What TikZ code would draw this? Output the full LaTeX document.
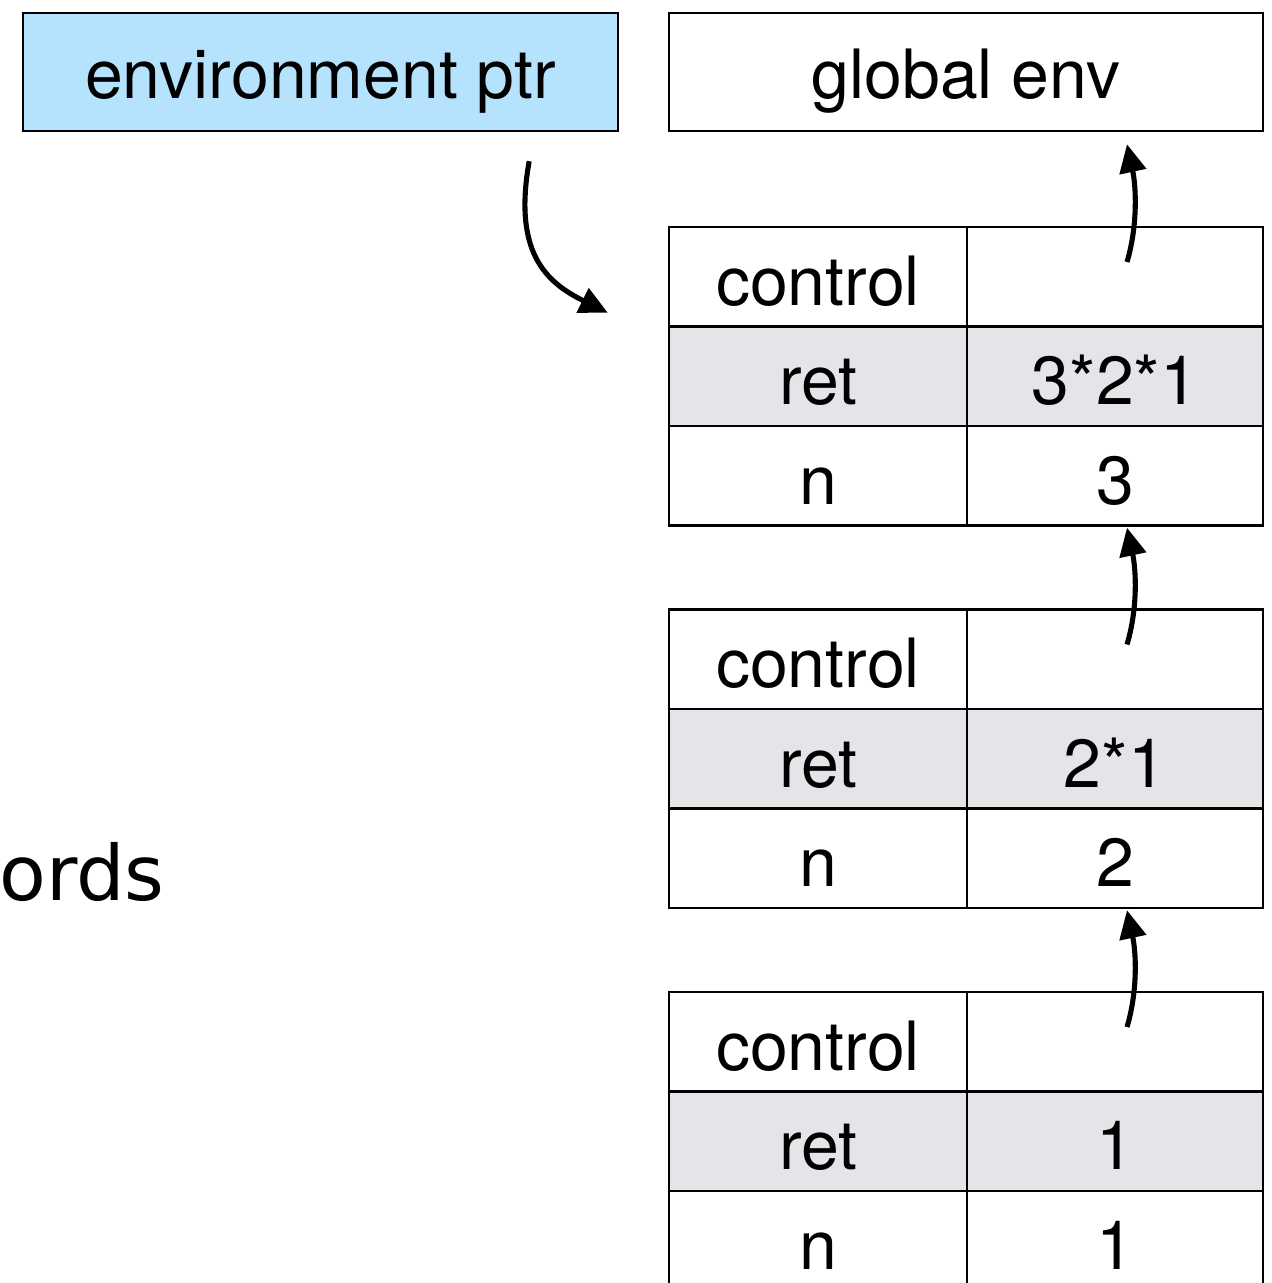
\documentclass[tikz,border=0pt]{standalone}
\usepackage{fontspec}
\setmainfont{TeX Gyre Heros}
\newfontfamily\labelfont{DejaVu Sans}
\usetikzlibrary{arrows.meta,calc}
\definecolor{ptrblue}{HTML}{B5E2FD}
\definecolor{retgray}{HTML}{E4E5E9}
\begin{document}
\begin{tikzpicture}[x=0.02cm,y=-0.02cm,
  box/.style={draw, line width=1.4pt, inner sep=0pt,
    font=\fontsize{38.7}{46}\selectfont, text depth=0pt},
  cellL/.style={box, minimum width=5.96cm, minimum height=1.99cm, text height=1.14cm},
  cellR/.style={box, minimum width=5.92cm, minimum height=1.99cm, text height=1.14cm},
  headbox/.style={box, minimum height=2.36cm, text height=1.08cm},
  link/.style={line width=2.9pt, -{Triangle[length=16pt,width=15pt]}}]
\clip (0,0) rectangle (1271,1283);

% pointer and global environment
\node[headbox, fill=ptrblue, minimum width=11.9cm] (envptr) at (320.5,72) {environment ptr};
\node[headbox, minimum width=11.88cm] (genv) at (966,72) {global env};

% activation records
\foreach \k/\top/\ret/\n in {1/227/3*2*1/3, 2/609.5/2*1/2, 3/992/1/1} {
  \node[cellL] (c\k-ctl)  at (818,\top+49.75)  {control};
  \node[cellR] (c\k-ctlv) at (1115,\top+49.75) {};
  \node[cellL, fill=retgray] (c\k-ret)  at (818,\top+149.25)  {ret};
  \node[cellR, fill=retgray] (c\k-retv) at (1115,\top+149.25) {\ret};
  \node[cellL] (c\k-n)  at (818,\top+248.75)  {n};
  \node[cellR] (c\k-nv) at (1115,\top+248.75) {\n};
}

\node[font=\labelfont\fontsize{43.5}{52}\selectfont, anchor=base west, inner sep=0pt]
  (records) at (-1,900) {ords};

% environment pointer into the newest record
\coordinate (envtail) at ($(envptr.south east)+(-90,29)$);
\coordinate (envhead) at ($(c1-ctl.west)+(-60,36)$);
\draw[link] (envtail) .. controls +(-16,90) and +(-63,-31) .. (envhead);

% static links up the chain
\coordinate (up1-head) at ($(genv.south)+(161,12)$);
\coordinate (up2-head) at ($(c1-nv.south)+(12,1)$);
\coordinate (up3-head) at ($(c2-nv.south)+(12,1)$);
\foreach \k in {1,2,3} {
  \coordinate (up\k-tail) at ($(c\k-ctlv.center)+(12,-14.75)$);
  \draw[link] (up\k-tail) .. controls +(11,-37) and +(9,42) .. (up\k-head);
}
\end{tikzpicture}
\end{document}
